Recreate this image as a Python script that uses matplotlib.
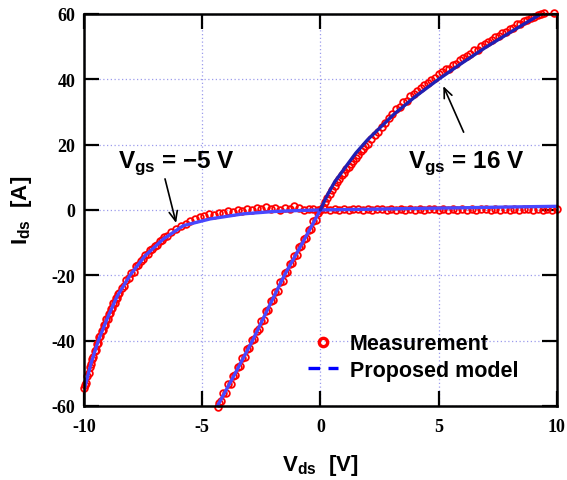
import matplotlib
matplotlib.use("Agg")
import matplotlib.pyplot as plt
from matplotlib.lines import Line2D

# ---- data ----
# Vgs = -5 V, measurement
m5_x = [-10.00, -9.95, -9.90, -9.85, -9.80, -9.75, -9.70, -9.65, -9.60, -9.55,
        -9.50, -9.45, -9.40, -9.35, -9.30, -9.25, -9.20, -9.15, -9.10, -9.05,
        -9.00, -8.95, -8.90, -8.85, -8.80, -8.75, -8.70, -8.65, -8.60, -8.55,
        -8.50, -8.4, -8.3, -8.2, -8.1, -8.0, -7.9, -7.8, -7.7, -7.6,
        -7.5, -7.4, -7.3, -7.2, -7.1, -7.0, -6.9, -6.8, -6.7, -6.6,
        -6.5, -6.3, -6.1, -5.9, -5.7, -5.5, -5.3, -5.1, -4.9, -4.7,
        -4.5, -4.3, -4.1, -3.9, -3.7, -3.5, -3.3, -3.1, -2.9, -2.7,
        -2.5, -2.3, -2.1, -1.9, -1.7, -1.5, -1.3, -1.1, -0.9, -0.7,
        -0.5, -0.3, -0.1,
        0.0, 0.2, 0.4, 0.6, 0.8, 1.0, 1.2, 1.4, 1.6, 1.8,
        2.0, 2.2, 2.4, 2.6, 2.8, 3.0, 3.2, 3.4, 3.6, 3.8,
        4.0, 4.2, 4.4, 4.6, 4.8, 5.0, 5.2, 5.4, 5.6, 5.8,
        6.0, 6.2, 6.4, 6.6, 6.8, 7.0, 7.2, 7.4, 7.6, 7.8,
        8.0, 8.2, 8.4, 8.6, 8.8, 9.0, 9.2, 9.4, 9.6, 9.8, 10.0]
m5_y = [-54.6, -53.5, -52.9, -50.8, -49.9, -48.0, -47.3, -45.5, -44.9, -43.2,
        -42.8, -41.0, -40.6, -38.9, -38.7, -37.1, -36.9, -35.2, -35.1, -33.5,
        -33.3, -32.0, -31.6, -30.3, -30.0, -28.6, -28.4, -27.0, -26.9, -25.6,
        -25.5, -23.8, -23.2, -21.4, -20.9, -19.2, -18.9, -17.3, -17.0, -15.5,
        -15.1, -13.8, -13.5, -12.3, -12.0, -11.0, -10.8, -9.6, -9.3, -8.3,
        -8.0, -6.9, -5.9, -4.8, -4.2, -3.4, -2.9, -2.3, -2.0, -1.4,
        -1.5, -0.8, -1.0, -0.4, -0.5, 0.1, -0.3, 0.4, 0.0, 0.6,
        0.2, 0.8, 0.3, 0.5, 0.1, 0.7, 0.2, 1.3, 0.5, 0.0,
        0.3, 0.2, 0.1,
        0.1, 0.2, 0.1, 0.2, 0.1, 0.2, 0.1, 0.2, 0.2, 0.1,
        0.2, 0.1, 0.2, 0.2, 0.1, 0.2, 0.1, 0.2, 0.1, 0.2,
        0.1, 0.2, 0.1, 0.2, 0.2, 0.1, 0.2, 0.1, 0.2, 0.1,
        0.2, 0.1, 0.2, 0.1, 0.2, 0.2, 0.1, 0.2, 0.1, 0.2,
        0.1, 0.2, 0.1, 0.2, 0.2, 0.1, 0.2, 0.1, 0.2, 0.1, 0.2]

# Vgs = 16 V, measurement
m16_x = [-4.35, -4.3, -4.2, -4.1, -4.0, -3.9, -3.8, -3.7, -3.6, -3.5,
         -3.4, -3.3, -3.2, -3.1, -3.0, -2.9, -2.8, -2.7, -2.6, -2.5,
         -2.4, -2.3, -2.2, -2.1, -2.0, -1.9, -1.8, -1.7, -1.6, -1.5,
         -1.4, -1.3, -1.2, -1.1, -1.0, -0.9, -0.8, -0.7, -0.6, -0.5,
         -0.4, -0.3, -0.2, -0.1, 0.0,
         0.1, 0.2, 0.3, 0.4, 0.5, 0.6, 0.7, 0.8, 0.9, 1.0,
         1.1, 1.2, 1.3, 1.4, 1.5, 1.6, 1.7, 1.8, 1.9, 2.0,
         2.15, 2.30, 2.45, 2.60, 2.75, 2.90, 3.05, 3.20, 3.35, 3.50,
         3.65, 3.80, 3.95, 4.10, 4.25, 4.40, 4.55, 4.70, 4.85, 5.00,
         5.15, 5.30, 5.45, 5.60, 5.75, 5.90, 6.05, 6.20, 6.35, 6.50,
         6.65, 6.80, 6.95, 7.10, 7.25, 7.40, 7.55, 7.70, 7.85, 8.00,
         8.15, 8.30, 8.45, 8.60, 8.75, 8.90, 9.05, 9.20, 9.35, 9.45, 9.90]
m16_y = [-60.2, -59.0, -58.6, -56.1, -55.9, -53.4, -53.2, -50.8, -50.5, -48.0,
         -47.9, -45.3, -45.1, -42.7, -42.4, -39.9, -39.6, -37.0, -36.6, -34.0,
         -33.6, -31.0, -30.6, -28.0, -27.7, -25.1, -24.7, -22.1, -21.8, -19.2,
         -19.0, -16.6, -16.4, -14.0, -13.8, -11.4, -11.1, -8.8, -8.5, -6.2,
         -5.8, -3.5, -3.2, -0.8, 0.0,
         0.9, 2.3, 3.6, 5.0, 6.2, 7.3, 8.6, 9.4, 10.6, 11.3,
         12.4, 13.1, 14.2, 15.1, 16.0, 16.9, 17.9, 18.5, 19.6, 20.2,
         21.8, 22.9, 24.0, 25.3, 26.6, 28.0, 29.3, 30.9, 31.6, 32.9,
         33.4, 34.8, 35.5, 36.5, 37.2, 38.3, 38.9, 39.9, 40.4, 41.6,
         42.1, 43.0, 43.2, 44.4, 44.6, 45.8, 46.5, 47.2, 47.6, 48.9,
         49.0, 50.3, 50.8, 51.5, 52.1, 52.8, 53.2, 54.2, 54.6, 55.4,
         55.8, 56.8, 57.0, 57.9, 58.2, 58.9, 59.2, 59.8, 59.9, 60.2, 60.4]

# proposed model curves
p5_x = [-10.0, -9.95, -9.7, -9.39, -9.0, -8.6, -8.05, -7.41, -6.64, -5.79,
        -4.66, -3.26, -2.0, -1.0, 0.0, 2.0, 4.0, 6.0, 8.0, 10.0]
p5_y = [-55.5, -54.0, -47.0, -40.0, -33.0, -26.5, -20.0, -14.0, -8.9, -4.8,
        -2.75, -1.2, -0.5, -0.2, 0.0, 0.2, 0.45, 0.65, 0.9, 1.1]

p16n_x = [-4.35, -3.6, -2.87, -2.2, -1.52, -0.75, 0.0]
p16n_y = [-60.0, -50.0, -40.0, -30.0, -20.0, -10.0, 0.0]

p16p_x = [0.0, 0.3, 0.6, 1.0, 1.5, 2.0, 2.5, 3.13, 4.0, 5.0, 6.0, 7.0, 8.2, 9.33]
p16p_y = [0.0, 4.6, 8.5, 12.5, 17.4, 21.5, 25.0, 29.4, 34.6, 40.0, 45.0, 49.8, 55.1, 60.0]

xticks = [-10, -5, 0, 5, 10]
yticks = [-60, -40, -20, 0, 20, 40, 60]

# ---- style ----
sans = ['Liberation Sans', 'DejaVu Sans']
serif = ['Liberation Serif', 'DejaVu Serif']
plt.rcParams['mathtext.fontset'] = 'custom'
plt.rcParams['mathtext.rm'] = 'Liberation Sans:bold'
plt.rcParams['mathtext.bf'] = 'Liberation Sans:bold'

fig = plt.figure(figsize=(5.67, 4.81), dpi=100)
ax = fig.add_axes([0.148, 0.154, 0.834, 0.815])

ax.grid(True, color='#9c9cec', linestyle=(0, (1, 2)), linewidth=0.9)
ax.set_axisbelow(True)

mk = dict(linestyle='none', marker='o', markersize=4.8, markerfacecolor='none',
          markeredgecolor='#ff0000', markeredgewidth=1.3, clip_on=False)
ax.plot(m5_x, m5_y, **mk)
ax.plot(m16_x, m16_y, **mk)

ax.plot(p5_x, p5_y, color='#4848ff', lw=2.4, solid_capstyle='round')
ax.plot(p16n_x, p16n_y, color='#4848ff', lw=2.4, solid_capstyle='round')
ax.plot(p16p_x, p16p_y, color='#2020b4', lw=2.4, solid_capstyle='round')

ax.set_xlim(-10, 10)
ax.set_ylim(-60, 60)
ax.set_xticks(xticks)
ax.set_yticks(yticks)
ax.set_xticklabels([str(v) for v in xticks])
ax.set_yticklabels([str(v) for v in yticks])
ax.tick_params(direction='in', length=11, width=1.6, top=True, right=True,
               labelsize=13)
ax.tick_params(axis='x', pad=9)
ax.tick_params(axis='y', pad=6)
for lab in ax.get_xticklabels() + ax.get_yticklabels():
    lab.set_fontfamily(serif)
    lab.set_fontweight('bold')
for s in ax.spines.values():
    s.set_linewidth(1.8)

ax.set_xlabel('V$_{\\mathrm{ds}}$  [V]', family=sans, weight='bold', fontsize=16)
ax.set_ylabel('I$_{\\mathrm{ds}}$  [A]', family=sans, weight='bold', fontsize=16)
ax.xaxis.set_label_coords(0.5, -0.118)
ax.yaxis.set_label_coords(-0.105, 0.5)

# annotations: text, then arrow from below the text to the curve
ax.text(-6.1, 13.2, 'V$_{\\mathrm{gs}}$ = \u22125 V', family=sans, weight='bold',
        fontsize=17.5, ha='center', va='baseline')
ax.text(6.16, 13.2, 'V$_{\\mathrm{gs}}$ = 16 V', family=sans, weight='bold',
        fontsize=17.5, ha='center', va='baseline')
arrow = dict(arrowstyle='->,head_length=0.7,head_width=0.3', color='black', lw=1.2,
             shrinkA=0, shrinkB=0)
ax.annotate('', xy=(-6.1, -4.0), xytext=(-6.57, 9.5), arrowprops=arrow)
ax.annotate('', xy=(5.2, 37.9), xytext=(6.06, 23.8), arrowprops=arrow)

handles = [Line2D([], [], linestyle='none', marker='o', markersize=6,
                  markerfacecolor='none', markeredgecolor='#ff0000',
                  markeredgewidth=2.4),
           Line2D([], [], color='#0000ff', lw=2.4, linestyle=(0, (3.5, 2.5)))]
ax.legend(handles, ['Measurement', 'Proposed model'], loc='center left',
          bbox_to_anchor=(0.474, 0.125), frameon=False, handlelength=1.4,
          handletextpad=0.55, labelspacing=0.25, borderpad=0, borderaxespad=0,
          prop=dict(family=sans, weight='bold', size=15.5))

fig.savefig('out.png', dpi=100)
